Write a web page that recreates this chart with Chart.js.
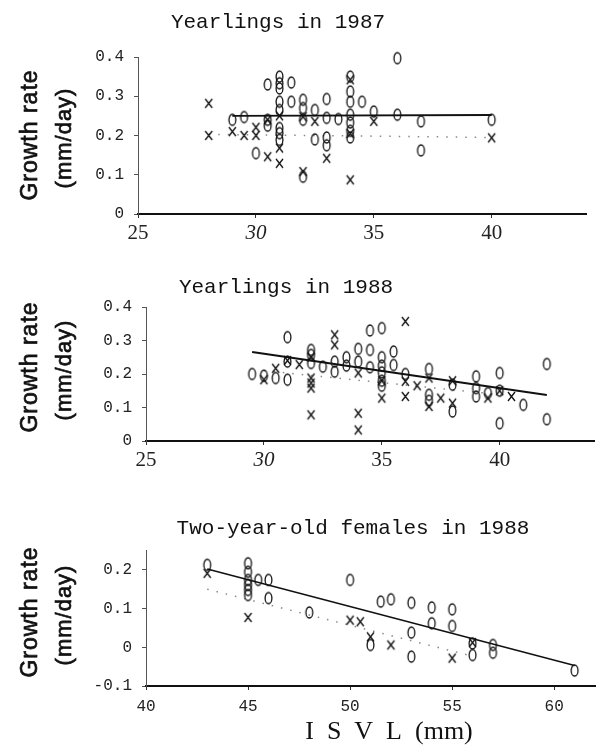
<!DOCTYPE html>
<html>
<head>
<meta charset="utf-8">
<script src="https://cdn.jsdelivr.net/npm/chart.js@4.4.0/dist/chart.umd.min.js"></script>
<style>
  html, body { margin: 0; padding: 0; background: #fff; }
  #wrap { position: relative; width: 598px; height: 747px; overflow: hidden; }
  canvas { position: absolute; left: 0; }
</style>
</head>
<body>
<div id="wrap">
  <canvas id="c87" width="598" height="250" style="top:0px"></canvas>
  <canvas id="c88" width="598" height="220" style="top:250px"></canvas>
  <canvas id="c2y" width="598" height="277" style="top:470px"></canvas>
</div>
<script>
// ---- Yearlings in 1987 ----
const ticks87X = [25, 30, 35, 40];
const ticks87Y = [0, 0.1, 0.2, 0.3, 0.4];
const circ87Len  = [29, 29.5, 30, 30.5, 30.5, 30.5, 31, 31, 31, 31, 31, 31, 31, 31, 31.5, 31.5, 32, 32, 32, 32, 32.5, 32.5, 33, 33, 33, 33, 33.5, 34, 34, 34, 34, 34, 34, 34, 34.5, 35, 36, 36, 37, 37, 40];
const circ87Rate = [0.24, 0.247, 0.155, 0.33, 0.24, 0.225, 0.35, 0.333, 0.32, 0.286, 0.265, 0.219, 0.206, 0.189, 0.335, 0.286, 0.291, 0.27, 0.24, 0.095, 0.265, 0.19, 0.293, 0.245, 0.195, 0.175, 0.242, 0.35, 0.312, 0.286, 0.253, 0.233, 0.212, 0.195, 0.286, 0.261, 0.397, 0.253, 0.236, 0.162, 0.24];
const cross87Len  = [28, 28, 29, 29.5, 30, 30, 30.5, 30.5, 31, 31, 31, 32, 32, 32.5, 33, 34, 34, 34, 35, 40];
const cross87Rate = [0.282, 0.2, 0.21, 0.2, 0.221, 0.2, 0.24, 0.146, 0.25, 0.168, 0.129, 0.248, 0.108, 0.236, 0.142, 0.342, 0.205, 0.087, 0.236, 0.194];
const fit87Len = [29, 40];
const fit87Rate = [0.25, 0.252];
const dot87Len = [28, 40];
const dot87Rate = [0.203, 0.195];

// ---- Yearlings in 1988 ----
const ticks88X = [25, 30, 35, 40];
const ticks88Y = [0, 0.1, 0.2, 0.3, 0.4];
const circ88Len  = [29.5, 30, 30.5, 31, 31, 31, 32, 32, 32, 32.5, 33, 33, 33.5, 33.5, 34, 34, 34.5, 34.5, 34.5, 35, 35, 35, 35, 35, 35, 35.5, 35.5, 36, 37, 37, 37, 38, 38, 39, 39, 39, 39.5, 40, 40, 40, 41, 42, 42];
const circ88Rate = [0.2, 0.195, 0.188, 0.183, 0.31, 0.237, 0.272, 0.257, 0.233, 0.222, 0.237, 0.207, 0.25, 0.225, 0.275, 0.237, 0.33, 0.272, 0.22, 0.337, 0.25, 0.225, 0.205, 0.18, 0.165, 0.267, 0.227, 0.2, 0.215, 0.138, 0.12, 0.168, 0.088, 0.193, 0.158, 0.133, 0.143, 0.203, 0.15, 0.053, 0.108, 0.23, 0.065];
const cross88Len  = [30, 30.5, 31, 31.5, 32, 32, 32, 32, 32, 33, 33, 34, 34, 34, 35, 35, 36, 36, 36, 36.5, 37, 37, 37.5, 38, 38, 39.5, 40, 40.5];
const cross88Rate = [0.183, 0.217, 0.24, 0.228, 0.25, 0.188, 0.173, 0.158, 0.078, 0.317, 0.287, 0.203, 0.083, 0.033, 0.128, 0.18, 0.357, 0.178, 0.133, 0.165, 0.188, 0.103, 0.128, 0.18, 0.113, 0.128, 0.15, 0.133];
const fit88Len = [29.5, 42];
const fit88Rate = [0.266, 0.137];
const dot88Len = [30, 40.5];
const dot88Rate = [0.21, 0.135];

// ---- Two-year-old females in 1988 ----
const ticks2yX = [40, 45, 50, 55, 60];
const ticks2yY = [-0.1, 0, 0.1, 0.2];
const circ2yLen  = [43, 45, 45, 45, 45, 45, 45, 45.5, 46, 46, 48, 50, 51, 51.5, 52, 53, 53, 53, 54, 54, 55, 55, 56, 56, 57, 57, 61];
const circ2yRate = [0.213, 0.217, 0.195, 0.174, 0.161, 0.148, 0.135, 0.174, 0.174, 0.127, 0.09, 0.174, 0.006, 0.118, 0.124, 0.115, 0.038, -0.024, 0.103, 0.062, 0.098, 0.055, 0.01, -0.02, 0.006, -0.014, -0.06];
const cross2yLen  = [43, 45, 50, 50.5, 51, 52, 55, 56];
const cross2yRate = [0.191, 0.077, 0.07, 0.066, 0.027, 0.006, -0.028, 0.012];
const fit2yLen = [43, 61];
const fit2yRate = [0.202, -0.047];
const dot2yLen = [43, 56];
const dot2yRate = [0.15, -0.023];

function pts(xs, ys) {
  return xs.map((x, i) => ({ x: x, y: ys[i] }));
}

// typewriter-like "0" and "x" markers
function makeMarker(kind) {
  const cv = document.createElement("canvas");
  cv.width = 11;
  cv.height = 15;
  const g = cv.getContext("2d");
  g.strokeStyle = "#111";
  g.lineWidth = 1.3;
  g.beginPath();
  if (kind === "o") {
    g.ellipse(5.5, 7.5, 3.4, 5.5, 0, 0, Math.PI * 2);
  } else {
    g.moveTo(2, 3); g.lineTo(9, 12);
    g.moveTo(9, 3); g.lineTo(2, 12);
  }
  g.stroke();
  return cv;
}
const ovalMark = makeMarker("o");
const crossMark = makeMarker("x");

// rotated label, slightly heavier than the regular face
function sideLabel(c, text, x, y, size) {
  c.save();
  c.translate(x, y);
  c.rotate(-Math.PI / 2);
  c.font = size + 'px "Liberation Sans"';
  c.letterSpacing = "1px";
  c.fillText(text, 0, 0);
  c.strokeStyle = "#111";
  c.lineWidth = 0.7;
  c.strokeText(text, 0, 0);
  c.restore();
}

// titles and axis labels, page coordinates
const panelText = {
  id: "panelText",
  afterDraw(chart, args, o) {
    const c = chart.ctx;
    const top = o.canvasTop;
    c.save();
    c.fillStyle = "#111";
    c.textAlign = "center";
    c.textBaseline = "alphabetic";
    c.font = '21px "Liberation Mono"';
    c.fillText(o.title, o.titleX, o.titleY - top);

    c.textBaseline = "middle";
    sideLabel(c, "Growth rate", 31, o.yTitleY - top, 23);
    sideLabel(c, "(mm/day)", 65, o.yTitleY - top + 3, 22);

    if (o.xTitle) {
      c.font = '26px "Liberation Serif"';
      c.fillText(o.xTitle, o.xTitleX, o.xTitleY - top);
    }
    c.restore();
  }
};

function makePanel(id, p) {
  const H = p.height;
  return new Chart(document.getElementById(id), {
    type: "scatter",
    data: {
      datasets: [
        { data: pts(p.circLen, p.circRate), pointStyle: ovalMark, pointRadius: 6, clip: false },
        { data: pts(p.crossLen, p.crossRate), pointStyle: crossMark, pointRadius: 6, clip: false },
        { data: pts(p.fitLen, p.fitRate), showLine: true, pointRadius: 0,
          borderColor: "#111", borderWidth: p.fitWidth },
        { data: pts(p.dotLen, p.dotRate), showLine: true, pointRadius: 0,
          borderColor: "#888", borderWidth: 1.5, borderDash: [1.5, 8] }
      ]
    },
    options: {
      responsive: false,
      animation: false,
      events: [],
      layout: {
        autoPadding: false,
        padding: { left: 0, right: 598 - p.right, top: p.areaTop - p.top, bottom: 0 }
      },
      plugins: {
        legend: { display: false },
        tooltip: { enabled: false },
        panelText: {
          canvasTop: p.top, title: p.title, titleX: p.titleX, titleY: p.titleY,
          yTitleY: p.yTitleY, xTitle: p.xTitle, xTitleX: p.xTitleX, xTitleY: p.xTitleY
        }
      },
      scales: {
        x: {
          type: "linear",
          min: p.xMin, max: p.xMax,
          afterBuildTicks: s => { s.ticks = p.xTicks.map(v => ({ value: v })); },
          afterFit: s => { s.height = p.top + H - p.areaBottom; },
          border: { display: true, color: "#111", width: 2 },
          grid: { drawOnChartArea: false, drawTicks: true, tickLength: 4, color: "#333" },
          ticks: {
            color: "#222", padding: p.xPad, maxRotation: 0, autoSkip: false,
            font: p.xFont
          }
        },
        y: {
          type: "linear",
          min: p.yMin, max: p.yMax,
          afterBuildTicks: s => { s.ticks = p.yTicks.map(v => ({ value: v })); },
          afterFit: s => { s.width = p.left; },
          border: { display: true, color: "#555", width: 1 },
          grid: { drawOnChartArea: false, drawTicks: true, tickLength: 4, color: "#555" },
          ticks: {
            color: "#222", padding: 10,
            font: { family: "Liberation Mono", size: 16 },
            callback: v => (v === 0 ? "0" : v.toFixed(1))
          }
        }
      }
    },
    plugins: [panelText]
  });
}

const serifTicks = ctx => ({
  family: "Liberation Serif", size: 21,
  style: ctx.tick && ctx.tick.value === 30 ? "italic" : "normal"
});

makePanel("c87", {
  top: 0, height: 250, left: 138, right: 586, areaTop: 57, areaBottom: 214,
  xMin: 25, xMax: 44, yMin: 0, yMax: 0.4, xTicks: ticks87X, yTicks: ticks87Y,
  circLen: circ87Len, circRate: circ87Rate, crossLen: cross87Len, crossRate: cross87Rate,
  fitLen: fit87Len, fitRate: fit87Rate, dotLen: dot87Len, dotRate: dot87Rate, fitWidth: 2,
  xFont: serifTicks, xPad: 3,
  title: "Yearlings in 1987", titleX: 278, titleY: 28, yTitleY: 135
});

makePanel("c88", {
  top: 250, height: 220, left: 146, right: 594, areaTop: 307, areaBottom: 441,
  xMin: 25, xMax: 44, yMin: 0, yMax: 0.4, xTicks: ticks88X, yTicks: ticks88Y,
  circLen: circ88Len, circRate: circ88Rate, crossLen: cross88Len, crossRate: cross88Rate,
  fitLen: fit88Len, fitRate: fit88Rate, dotLen: dot88Len, dotRate: dot88Rate, fitWidth: 2,
  xFont: serifTicks, xPad: 3,
  title: "Yearlings in 1988", titleX: 286, titleY: 293, yTitleY: 367
});

makePanel("c2y", {
  top: 470, height: 277, left: 146, right: 595, areaTop: 550.5, areaBottom: 686,
  xMin: 40, xMax: 62, yMin: -0.1, yMax: 0.25, xTicks: ticks2yX, yTicks: ticks2yY,
  circLen: circ2yLen, circRate: circ2yRate, crossLen: cross2yLen, crossRate: cross2yRate,
  fitLen: fit2yLen, fitRate: fit2yRate, dotLen: dot2yLen, dotRate: dot2yRate, fitWidth: 1.5,
  xFont: { family: "Liberation Mono", size: 16 }, xPad: 7,
  title: "Two-year-old females in 1988", titleX: 353, titleY: 534, yTitleY: 612,
  xTitle: "I  S  V  L  (mm)", xTitleX: 389, xTitleY: 732
});
</script>
</body>
</html>
